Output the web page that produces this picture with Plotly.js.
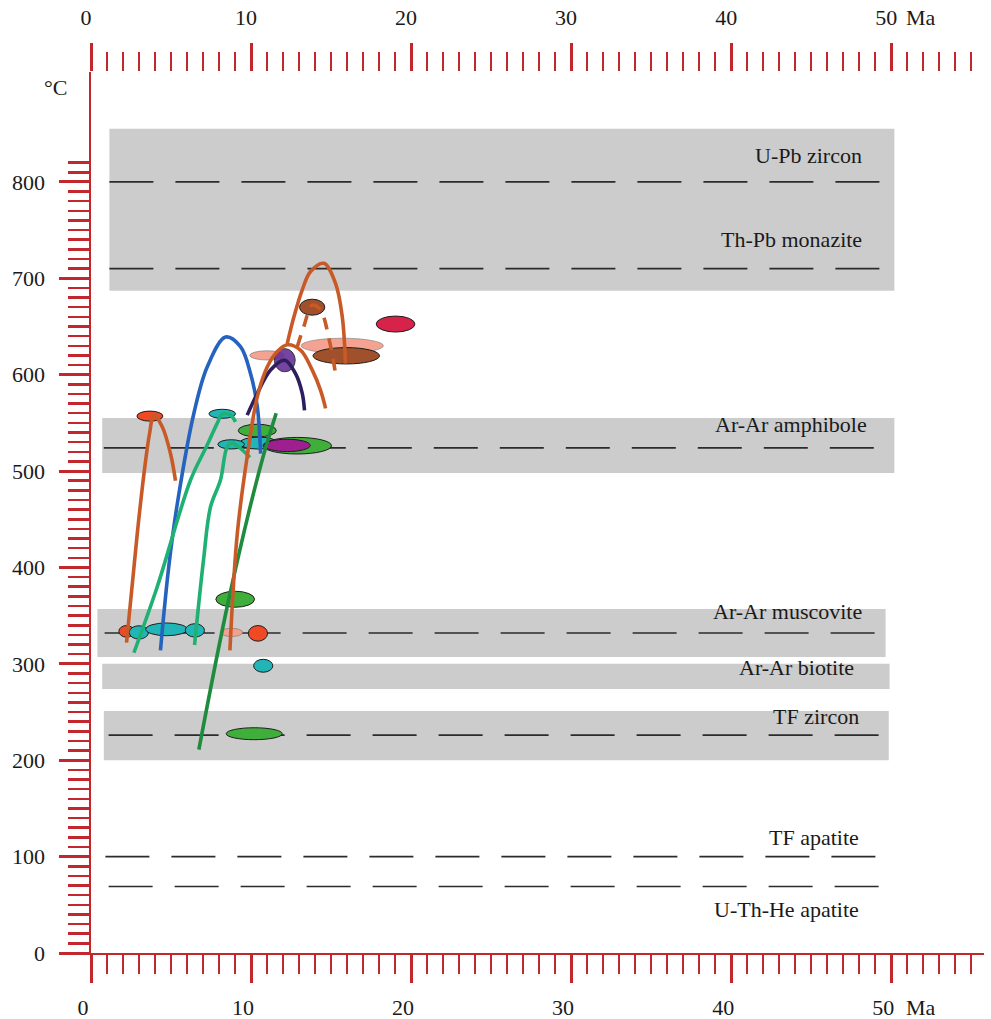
<!DOCTYPE html>
<html><head><meta charset="utf-8">
<script src="https://cdn.plot.ly/plotly-3.0.1.min.js"></script>
<style>html,body{margin:0;padding:0;background:#fff}#chart{width:991px;height:1019px}</style>
</head><body><div id="chart"></div>
<script>
// ---------- DATA ----------
// x ticks (Ma) and y ticks (°C)
const xTickVals = [0, 10, 20, 30, 40, 50];
const xTickText = ["0", "10", "20", "30", "40", "50"];
const yTickVals = [0, 100, 200, 300, 400, 500, 600, 700, 800];
const yTickText = ["0", "100", "200", "300", "400", "500", "600", "700", "800"];

// grey closure-temperature windows
const boxAgeMin = [1.15, 0.7, 0.4, 0.7, 0.8];
const boxAgeMax = [50.2, 50.2, 49.65, 49.9, 49.85];
const boxTMin   = [687, 498, 307, 274, 200];
const boxTMax   = [855, 555, 357, 300, 251];

// nominal closure temperatures (dashed lines)
const sysNames  = ["U-Pb zircon", "Th-Pb monazite", "Ar-Ar amphibole", "Ar-Ar muscovite", "TF zircon", "TF apatite", "U-Th-He apatite"];
const sysT      = [800, 710, 524, 332, 226, 100, 69];
const sysAgeMin = [1.15, 1.15, 0.8, 0.85, 1.1, 0.9, 1.1];
const sysAgeMax = [49.3, 49.3, 49.0, 49.1, 49.3, 49.2, 49.3];

// band labels
const labelNames = ["U-Pb zircon", "Th-Pb monazite", "Ar-Ar amphibole", "Ar-Ar muscovite", "Ar-Ar biotite", "TF zircon", "TF apatite", "U-Th-He apatite"];

// age / temperature estimates (ellipses): centre and half-ranges
const ellAge    = [2.22, 2.99, 4.72, 6.49, 8.78, 10.43, 10.76, 9.01, 10.2, 3.68, 8.2, 10.39, 10.47, 8.76, 12.89, 12.26, 11.0, 12.11, 13.82, 15.7, 15.95, 19.03];
const ellT      = [333.7, 332.6, 335.8, 334.7, 332.6, 331.6, 298, 367, 227.5, 557, 559.4, 542, 529, 527.7, 526.3, 526.6, 620, 615, 670, 630, 619.6, 652.5];
const ellAgeErr = [0.48, 0.6, 1.3, 0.6, 0.7, 0.6, 0.6, 1.21, 1.75, 0.81, 0.83, 1.19, 1.2, 0.83, 2.14, 1.44, 1.08, 0.65, 0.79, 2.57, 2.08, 1.21];
const ellTErr   = [6, 6.9, 6.6, 6.9, 4.3, 8.1, 6.7, 8.3, 6.2, 5.2, 4.7, 6.6, 6.2, 4.8, 8.6, 6.4, 4.8, 12, 8.3, 7.8, 8.5, 8.3];

// T-t paths
const pathA_age = [2.22, 2.89, 3.36, 3.66, 3.93, 4.45, 4.97, 5.28];
const pathA_T   = [322, 435, 504, 539, 558, 546, 518, 490];
const pathB_age = [4.34, 4.86, 5.43, 6.43, 7.26, 8.41, 9.34, 9.97, 10.39, 10.6];
const pathB_T   = [314, 401, 470, 560, 608, 639, 629, 601, 567, 518];
const pathC_age = [2.68, 4.14, 6.22, 7.2, 7.9, 8.2, 8.72, 9.03];
const pathC_T   = [311.5, 380, 490.7, 525, 550, 559, 558, 551];
const pathD_age = [6.47, 7.03, 7.47, 8.09, 8.51, 8.82, 9.45, 9.93];
const pathD_T   = [319.5, 407.7, 463, 490.7, 525, 529, 522, 514];
const pathE_age = [8.68, 9.14, 9.76, 10.39, 11.01, 11.64, 12.26, 13.09, 13.82, 14.34, 14.66];
const pathE_T   = [314, 435, 515, 577, 608, 624, 631, 625.5, 605, 584, 565];
const pathF_age = [12.26, 12.68, 13.2, 13.72, 14.55, 15.28, 15.7, 15.9];
const pathF_T   = [632, 660, 688, 707, 715.5, 694.7, 660, 611.6];
const pathG_age = [12.89, 13.3, 13.82, 14.34, 14.9, 15.28];
const pathG_T   = [629, 650, 672, 667, 635, 601];
const pathH_age = [9.76, 10.39, 11.22, 12.11, 12.78, 13.2, 13.34];
const pathH_T   = [558, 580.5, 604.8, 615, 601, 580.5, 563];
const pathI_age = [6.74, 8.61, 10.59, 11.57];
const pathI_T   = [211, 367, 505, 560];

// ---------- STYLE ----------
const RED = '#c1272d';
const FONT = 'Liberation Serif';
const ORANGE = '#c85a27', BLUE = '#2563be', GREEN = '#1fb073', DKGREEN = '#1e8b3d', NAVY = '#2d1f5e';
const ellFill = ['#ef4a24', '#22b5b8', '#22b5b8', '#22b5b8', '#f2a08f', '#ef4a24', '#22b5b8', '#40ae3a', '#40ae3a',
  '#ef4a24', '#22b5b8', '#40ae3a', '#22b5b8', '#22b5b8', '#40ae3a', '#9e1f8f', '#f4a393', '#642b95', '#a0502a', '#f4a393', '#a0502a', '#d7234a'];
const ellOpacity = ellFill.map((c, i) => i === 17 ? 0.88 : 1);
const labelAgeRight = [48.3, 48.3, 48.6, 48.3, 47.8, 48.1, 48.1, 48.1];
const labelTpos = [827, 740, 548, 354, 296, 245, 120, 45];

const traces = [];
function path(ax, at, color, dash) {
  traces.push({x: ax, y: at, type: 'scatter', mode: 'lines', hoverinfo: 'skip',
    line: {color: color, width: 3.6, shape: 'spline', smoothing: 1, dash: dash || 'solid'}});
}
path(pathI_age, pathI_T, DKGREEN);
path(pathA_age, pathA_T, ORANGE);
path(pathB_age, pathB_T, BLUE);
path(pathC_age, pathC_T, GREEN);
path(pathD_age, pathD_T, GREEN);
path(pathH_age, pathH_T, NAVY);
path(pathE_age, pathE_T, ORANGE);
path(pathF_age, pathF_T, ORANGE);
path(pathG_age, pathG_T, ORANGE, '12px,9px');
// invisible trace on the top axis so it is drawn
traces.push({x: [xTickVals[0]], y: [yTickVals[0]], xaxis: 'x2', yaxis: 'y', mode: 'markers', marker: {opacity: 0}, hoverinfo: 'skip'});

const shapes = [];
for (let i = 0; i < boxAgeMin.length; i++) {
  shapes.push({type: 'rect', xref: 'x', yref: 'y', x0: boxAgeMin[i], x1: boxAgeMax[i], y0: boxTMin[i], y1: boxTMax[i],
    fillcolor: '#cccccc', line: {width: 0}, layer: 'below'});
}
for (let i = 0; i < sysT.length; i++) {
  shapes.push({type: 'line', xref: 'x', yref: 'y', x0: sysAgeMin[i], x1: sysAgeMax[i], y0: sysT[i], y1: sysT[i],
    line: {color: '#2b2b2b', width: 1.6, dash: '44px,22px'}, layer: 'below'});
}
for (let i = 0; i < ellAge.length; i++) {
  const light = ellFill[i] === '#f4a393' || ellFill[i] === '#f2a08f';
  shapes.push({type: 'circle', xref: 'x', yref: 'y', x0: ellAge[i] - ellAgeErr[i], x1: ellAge[i] + ellAgeErr[i],
    y0: ellT[i] - ellTErr[i], y1: ellT[i] + ellTErr[i], fillcolor: ellFill[i], opacity: ellOpacity[i],
    line: {color: light ? 'rgba(110,110,110,0.55)' : '#1e1e1e', width: 1}, layer: 'below'});
}

const annotations = [];
for (let i = 0; i < labelNames.length; i++) {
  annotations.push({x: labelAgeRight[i], y: labelTpos[i], xref: 'x', yref: 'y', text: labelNames[i], showarrow: false,
    xanchor: 'right', yanchor: 'middle', font: {family: FONT, size: 22, color: '#1a1a1a'}});
}
annotations.push({x: -0.04, y: 0.982, xref: 'paper', yref: 'paper', text: '°C', showarrow: false,
  xanchor: 'center', yanchor: 'middle', font: {family: FONT, size: 22, color: '#1a1a1a'}});
annotations.push({x: xTickVals[5], y: 1.0613, xref: 'x', yref: 'paper', text: 'Ma', showarrow: false, xshift: 13,
  xanchor: 'left', yanchor: 'middle', font: {family: FONT, size: 22, color: '#1a1a1a'}});
annotations.push({x: xTickVals[5], y: -0.0613, xref: 'x', yref: 'paper', text: 'Ma', showarrow: false, xshift: 13,
  xanchor: 'left', yanchor: 'middle', font: {family: FONT, size: 22, color: '#1a1a1a'}});

const yMinor = [];
for (let v = 10; v <= 820; v += 10) yMinor.push(v);

const xCommon = {
  range: [0, 55.8], tickmode: 'array', tickvals: xTickVals, ticktext: xTickText, ticks: 'outside', ticklen: 28, tickwidth: 3,
  tickcolor: RED, showgrid: false, zeroline: false, fixedrange: true,
  tickfont: {family: FONT, size: 22, color: '#1a1a1a'},
  minor: {dtick: 1, tick0: 0, ticks: 'outside', ticklen: 19, tickwidth: 2, tickcolor: RED, showgrid: false}
};

const layout = {
  width: 991, height: 1019, margin: {l: 91, r: 7, t: 72, b: 66},
  paper_bgcolor: '#ffffff', plot_bgcolor: '#ffffff', showlegend: false,
  font: {family: FONT, size: 22, color: '#1a1a1a'},
  xaxis: Object.assign({}, xCommon, {showline: true, linecolor: RED, linewidth: 2, ticklabelshift: -8, ticklabelstandoff: 6, anchor: 'y'}),
  xaxis2: Object.assign({}, xCommon, {overlaying: 'x', side: 'top', anchor: 'y', showline: false, ticklabelshift: -5, ticklabelstandoff: 9}),
  yaxis: {range: [0, 914], tickmode: 'array', tickvals: yTickVals, ticktext: yTickText, ticks: 'outside', ticklen: 30, tickwidth: 3,
    tickcolor: RED, showline: true, linecolor: RED, linewidth: 2.5, showgrid: false, zeroline: false, fixedrange: true,
    ticklabelstandoff: 9,
    tickfont: {family: FONT, size: 22, color: '#1a1a1a'},
    minor: {tickmode: 'array', tickvals: yMinor, ticks: 'outside', ticklen: 21, tickwidth: 2.5, tickcolor: RED, showgrid: false}},
  shapes: shapes, annotations: annotations
};

Plotly.newPlot('chart', traces, layout, {displayModeBar: false, staticPlot: true});
</script></body></html>
